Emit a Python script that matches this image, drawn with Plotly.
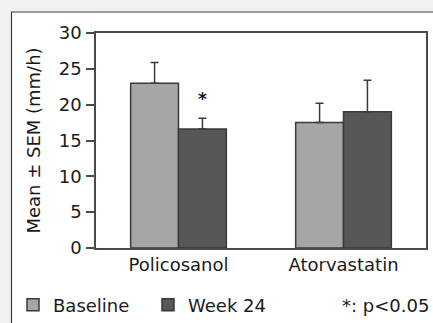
import plotly.graph_objects as go

categories = ["Policosanol", "Atorvastatin"]
baseline = [23.0, 17.5]
baseline_sem = [2.9, 2.7]
week24 = [16.6, 19.0]
week24_sem = [1.5, 4.4]
y_ticks = [0, 5, 10, 15, 20, 25, 30]

W, H = 433, 323
ML, MR, MT, MB = 96, 7, 33, 75
pw, ph = W - ML - MR, H - MT - MB

def px_x(p):
    return (p - ML) / pw

def px_y(p):
    return (H - MB - p) / ph

font = dict(family="DejaVu Sans, Arial, sans-serif", size=18, color="#1a1a1a")

fig = go.Figure()
fig.add_trace(go.Bar(
    name="Baseline", x=categories, y=baseline,
    marker=dict(color="#a6a6a6", line=dict(color="#3a3a3a", width=1.5)),
    error_y=dict(type="data", symmetric=False, array=baseline_sem, arrayminus=[0, 0],
                 color="#3a3a3a", thickness=1.5, width=4),
))
fig.add_trace(go.Bar(
    name="Week 24", x=categories, y=week24,
    marker=dict(color="#575757", line=dict(color="#3a3a3a", width=1.5)),
    error_y=dict(type="data", symmetric=False, array=week24_sem, arrayminus=[0, 0],
                 color="#3a3a3a", thickness=1.5, width=4),
))

# significance marker above Policosanol week 24
fig.add_annotation(x=categories[0], xshift=24, y=week24[0] + week24_sem[0] + 2.7,
                   text="<b>*</b>", showarrow=False,
                   font=dict(family=font["family"], size=17, color="#1a1a1a"))
fig.add_annotation(xref="paper", yref="paper", x=px_x(385.5), y=px_y(305),
                   xanchor="center", yanchor="middle", text="*: p&lt;0.05",
                   showarrow=False, font=font)

# outer frame of the figure panel
fig.add_shape(type="rect", xref="paper", yref="paper", layer="below",
              x0=px_x(11.5), x1=px_x(460), y0=px_y(360), y1=px_y(12),
              fillcolor="white", line=dict(color="#3c3c3c", width=1.2))

fig.update_layout(
    width=W, height=H,
    margin=dict(l=ML, r=MR, t=MT, b=MB, autoexpand=False),
    paper_bgcolor="#f1f1f1", plot_bgcolor="white",
    font=font,
    barmode="group", bargap=0.42, bargroupgap=0,
    showlegend=True,
    legend=dict(orientation="h", x=px_x(13), y=px_y(305), xanchor="left", yanchor="middle",
                bgcolor="rgba(0,0,0,0)", font=font, entrywidth=90, entrywidthmode="pixels",
                itemclick=False, itemdoubleclick=False),
)
fig.update_xaxes(showline=True, linecolor="#4a4a4a", linewidth=1.5, mirror=True,
                 ticks="", tickfont=font, showgrid=False)
fig.update_yaxes(range=[0, 30], tickvals=y_ticks, showline=True, linecolor="#4a4a4a",
                 linewidth=1.5, mirror=True, ticks="outside", ticklen=8, tickcolor="#4a4a4a",
                 tickwidth=1.5, showgrid=False, zeroline=False, tickfont=font,
                 ticklabelstandoff=1,
                 title=dict(text="Mean ± SEM (mm/h)", font=font, standoff=13))

fig.write_html("out.html", config={"displayModeBar": False},
               post_script="document.body.style.margin='0';")
